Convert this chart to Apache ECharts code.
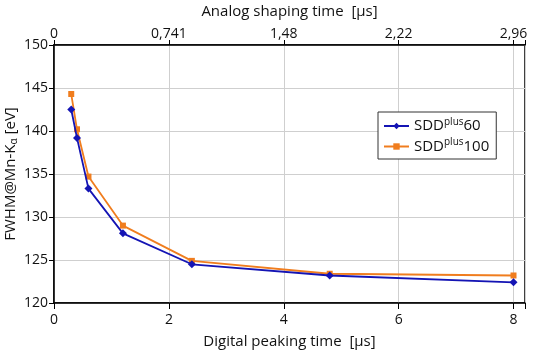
<!DOCTYPE html>
<html>
<head>
<meta charset="utf-8">
<script src="https://cdn.jsdelivr.net/npm/echarts@6/dist/echarts.min.js"></script>
<style>
  html, body { margin: 0; padding: 0; background: #fff; }
  #chart { width: 560px; height: 350px; }
</style>
</head>
<body>
<div id="chart"></div>
<script>
const peakTimes = [0.3, 0.4, 0.6, 1.2, 2.4, 4.8, 8];
const sdd60 = [142.5, 139.2, 133.3, 128.1, 124.5, 123.2, 122.4];
const sdd100 = [144.3, 140.2, 134.7, 129.0, 124.9, 123.4, 123.2];
const topTickLabels = ['0', '0,741', '1,48', '2,22', '2,96'];

const fontFamily = '"Open Sans", "Noto Sans", sans-serif';
const textColor = '#111';
const gridColor = '#cfcfcf';

const chart = echarts.init(document.getElementById('chart'));

const pairs = (xs, ys) => xs.map((x, i) => [x, ys[i]]);

chart.setOption({
  animation: false,
  textStyle: { fontFamily },
  grid: {
    left: 54, right: 35, top: 45, bottom: 47,
    outerBoundsMode: 'none', containLabel: false,
    show: true, borderColor: '#000', borderWidth: 1.5
  },
  legend: {
    orient: 'vertical',
    left: 378, top: 112,
    backgroundColor: '#fff',
    borderColor: '#333', borderWidth: 1,
    padding: [5, 7, 5, 5],
    itemGap: 4,
    itemWidth: 25, itemHeight: 8,
    textStyle: {
      fontFamily, fontSize: 15, color: textColor,
      rich: {
        m: { fontFamily, fontSize: 15, color: textColor },
        s: { fontFamily, fontSize: 10, color: textColor, padding: [0, 0, 8, 0] }
      }
    },
    formatter: (name) => name === 'SDD60' ? '{m|SDD}{s|plus}{m|60}' : '{m|SDD}{s|plus}{m|100}',
    data: ['SDD60', 'SDD100']
  },
  xAxis: [
    {
      type: 'value', position: 'bottom',
      min: 0, max: 8.2, interval: 2,
      name: 'Digital peaking time  [µs]',
      nameLocation: 'middle', nameGap: 31,
      nameTextStyle: { fontFamily, fontSize: 15, color: textColor },
      axisLine: { lineStyle: { color: '#000', width: 1.5 } },
      axisTick: { show: true, length: 6, lineStyle: { color: '#000' } },
      axisLabel: {
        fontFamily, fontSize: 14, color: textColor, margin: 10,
        formatter: (v) => (v % 2 === 0 && v <= 8) ? String(v) : ''
      },
      splitLine: { show: true, lineStyle: { color: gridColor } }
    },
    {
      type: 'value', position: 'top',
      min: 0, max: 8.2, interval: 2,
      name: 'Analog shaping time  [µs]',
      nameLocation: 'middle', nameGap: 26,
      nameTextStyle: { fontFamily, fontSize: 15, color: textColor },
      axisLine: { lineStyle: { color: '#000', width: 1.5 } },
      axisTick: { show: true, length: 5, lineStyle: { color: '#000' } },
      axisLabel: {
        fontFamily, fontSize: 14, color: textColor, margin: 4,
        formatter: (v) => (v % 2 === 0 && v <= 8) ? topTickLabels[v / 2] : ''
      },
      splitLine: { show: false }
    }
  ],
  yAxis: {
    type: 'value',
    min: 120, max: 150, interval: 5,
    name: '{a|FWHM@Mn-K}{s|α}{a| [eV]}',
    nameLocation: 'middle', nameGap: 35, nameRotate: 90,
    nameMoveOverlap: false,
    nameTextStyle: {
      fontFamily, fontSize: 15, color: textColor,
      rich: {
        a: { fontFamily, fontSize: 15, color: textColor },
        s: { fontFamily, fontSize: 10, color: textColor, padding: [6, 0, 0, 0] }
      }
    },
    axisLine: { show: true, lineStyle: { color: '#000', width: 1.5 } },
    axisTick: { show: true, length: 5, lineStyle: { color: '#000' } },
    axisLabel: { fontFamily, fontSize: 14, color: textColor, margin: 6 },
    splitLine: { show: true, lineStyle: { color: gridColor } }
  },
  series: [
    {
      name: 'SDD60', type: 'line',
      data: pairs(peakTimes, sdd60),
      symbol: 'diamond', symbolSize: 8,
      lineStyle: { color: '#1414b4', width: 1.8 },
      itemStyle: { color: '#1414b4' },
      z: 3
    },
    {
      name: 'SDD100', type: 'line',
      data: pairs(peakTimes, sdd100),
      symbol: 'rect', symbolSize: 6,
      lineStyle: { color: '#f07d1e', width: 1.8 },
      itemStyle: { color: '#f07d1e' },
      z: 2
    }
  ]
});
</script>
</body>
</html>
